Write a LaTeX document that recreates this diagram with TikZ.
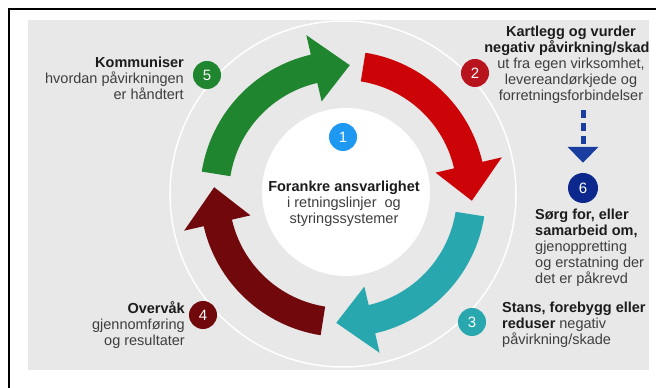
\documentclass[tikz,border=0pt]{standalone}
\usepackage{fontspec}
\setmainfont{Liberation Sans}
\usetikzlibrary{arrows.meta}
\definecolor{bggray}{RGB}{232,232,232}
\definecolor{txtgray}{RGB}{62,62,62}
\definecolor{txtdark}{RGB}{28,28,28}
\definecolor{green5}{RGB}{31,133,46}
\definecolor{red2}{RGB}{204,4,8}
\definecolor{redc}{RGB}{184,20,30}
\definecolor{teal3}{RGB}{40,168,174}
\definecolor{dred4}{RGB}{112,8,12}
\definecolor{blue1}{RGB}{30,152,240}
\definecolor{navy6}{RGB}{12,40,140}
\definecolor{navyline}{RGB}{26,62,160}
\newcommand{\hd}[1]{{\bfseries\color{txtdark}#1}}

\begin{document}
\begin{tikzpicture}[x=1pt,y=1pt,
    num/.style={circle, minimum size=28pt, inner sep=0pt, text=white,
      font=\fontsize{15}{15}\selectfont},
    lbl/.style={inner sep=0pt, text=txtgray, font=\fontsize{14.5}{16}\selectfont},
    dasharrow/.style={draw=navyline, line width=5pt, dash pattern=on 8pt off 5pt,
      -{Triangle[width=30pt,length=16pt]}, shorten <=6pt, shorten >=10pt}]
      \useasboundingbox (0,0) rectangle (656,388);
      \clip (0,0) rectangle (656,388);

      % frame and background
      \draw[line width=2.5pt] (9,-20) rectangle (680,379);
      \fill[bggray] (28,18) rectangle (649,368);
      \draw[white, line width=1.5pt] (343,194) circle[radius=173];

      % the four arrows round the cycle
      \begin{scope}[shift={(343,194)}]
      \fill[green5] (171:143) arc[start angle=171, end angle=103, radius=143]
        -- (103:163) -- (87:129) -- (103:95) -- (103:114)
        arc[start angle=103, end angle=171, radius=114] -- cycle;
      \fill[red2] (81:143) arc[start angle=81, end angle=13, radius=143]
        -- (13:163) -- (-3:129) -- (13:95) -- (13:114)
        arc[start angle=13, end angle=81, radius=114] -- cycle;
      \fill[teal3] (-9:143) arc[start angle=-9, end angle=-77, radius=143]
        -- (-77:163) -- (-93:129) -- (-77:95) -- (-77:114)
        arc[start angle=-77, end angle=-9, radius=114] -- cycle;
      \fill[dred4] (-99:143) arc[start angle=-99, end angle=-167, radius=143]
        -- (-167:163) -- (-183:129) -- (-167:95) -- (-167:114)
        arc[start angle=-167, end angle=-99, radius=114] -- cycle;
      \end{scope}

      % centre
      \fill[white] (346,196) circle[radius=84];
      \node (c1) at (343,251) [num, fill=blue1] {1};
      \node (t1) at (344,164) [lbl, anchor=base, align=center]
        {\hd{Forankre ansvarlighet}\\i retningslinjer\ \ og\\styringssystemer};

      % step 2
      \node (c2) at (475,315) [num, fill=redc] {2};
      \node (t2) at (571,287) [lbl, anchor=base, align=center]
        {\hd{Kartlegg og vurder}\\\hd{negativ påvirkning/skad\phantom{e}}\\
         ut fra egen virksomhet,\\levereandørkjede og\\forretningsforbindelser};

      % step 6
      \node (c6) at (583,200) [num, minimum size=30pt, fill=navy6] {6};
      \draw[dasharrow] (t2.south -| c6) -- (c6);
      \node (t6) at (535,104) [lbl, anchor=base west, align=left]
        {\hd{Sørg for, eller}\\\hd{samarbeid om,}\\gjenoppretting\\og erstatning der\\det er påkrevd};

      % step 3
      \node (c3) at (472,66) [num, fill=teal3] {3};
      \node (t3) at (502,43) [lbl, anchor=base west, align=left]
        {\hd{Stans, forebygg eller}\\\hd{reduser} negativ\\påvirkning/skade};

      % step 4
      \node (c4) at (203,73) [num, fill=dred4] {4};
      \node (t4) at (185,42) [lbl, anchor=base east, align=right]
        {\hd{Overvåk}\\gjennomføring\\og resultater};

      % step 5
      \node (c5) at (207,313) [num, fill=green5] {5};
      \node (t5) at (184,288) [lbl, anchor=base east, align=right]
        {\hd{Kommuniser}\\hvordan påvirkningen\\er håndtert};
\end{tikzpicture}
\end{document}
